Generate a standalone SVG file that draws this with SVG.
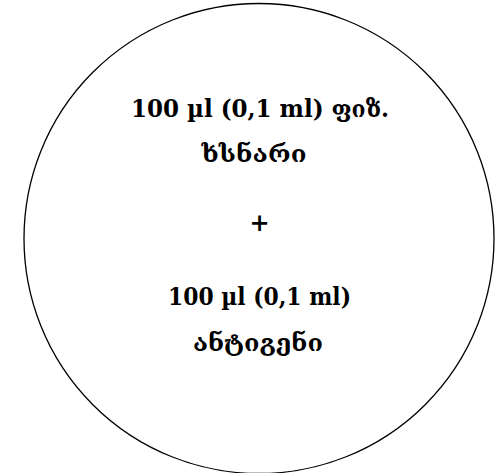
<svg xmlns="http://www.w3.org/2000/svg" width="495" height="473" viewBox="0 0 495 473">
<style>
.t{font-family:"DejaVu Serif","Liberation Serif",serif;font-size:24px;font-weight:bold;fill:#000;text-anchor:middle}
</style>
<rect width="495" height="473" fill="#fff"/>
<g id="circle">
<circle cx="259" cy="238.5" r="235" fill="#fff" stroke="#000" stroke-width="1.3"/>
<text class="t" x="260" y="117" textLength="258" lengthAdjust="spacingAndGlyphs">100 µl (0,1 ml) ფიზ.</text>
<text class="t" x="254" y="162" textLength="105" lengthAdjust="spacingAndGlyphs">ხსნარი</text>
<text class="t" x="259.5" y="231">+</text>
<text class="t" x="259.5" y="305" textLength="183" lengthAdjust="spacingAndGlyphs">100 µl (0,1 ml)</text>
<text class="t" x="258" y="351" textLength="130" lengthAdjust="spacingAndGlyphs">ანტიგენი</text>
</g>
</svg>
